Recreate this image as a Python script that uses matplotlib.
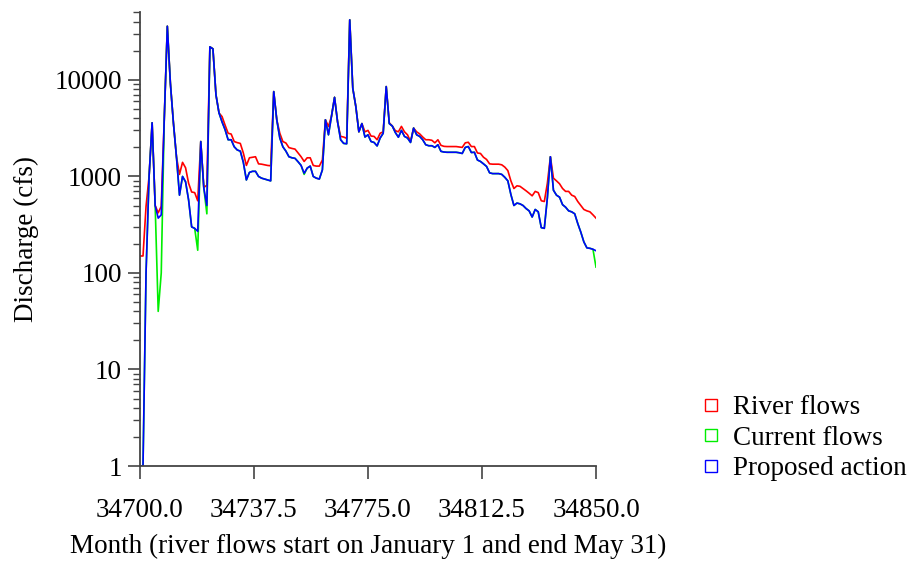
import matplotlib

matplotlib.use("Agg")
import matplotlib.pyplot as plt
from matplotlib.lines import Line2D
from matplotlib.ticker import FixedLocator, LogLocator, NullFormatter

plt.rcParams["font.family"] = ["Liberation Serif", "DejaVu Serif"]

start_day = 34700
x_ticks = [34700.0, 34737.5, 34775.0, 34812.5, 34850.0]
y_ticks = [1, 10, 100, 1000, 10000]

series_names = ["River flows", "Current flows", "Proposed action"]

# daily discharge (cfs), Jan 1 .. May 31
river_flows = [
    150, 150, 490, 1000, 3600, 500, 420, 490, 4000, 36000,
    9300, 3600, 1600, 1050, 1400, 1230, 850, 690, 680, 560,
    2300, 770, 810, 22000, 21000, 7000, 4550, 4170, 3400, 2800,
    2750, 2300, 2240, 2200, 1750, 1300, 1560, 1580, 1600, 1350,
    1340, 1320, 1300, 1290, 7570, 3860, 2800, 2300, 2220, 1990,
    1950, 1920, 1750, 1600, 1430, 1560, 1560, 1300, 1280, 1280,
    1480, 3860, 3300, 4200, 6600, 3670, 2600, 2560, 2480, 41900,
    8200, 5300, 2900, 3530, 2900, 3000, 2620, 2600, 2400, 2800,
    2900, 8530, 3600, 3330, 2980, 2900, 3300, 2900, 2700, 2300,
    3170, 2900, 2760, 2560, 2400, 2400, 2370, 2230, 2400, 2100,
    2050, 2040, 2040, 2040, 2040, 2020, 2000, 2230, 2260, 2040,
    2040, 1750, 1730, 1580, 1500, 1350, 1340, 1340, 1340, 1320,
    1250, 1150, 900, 750, 800, 790, 750, 710, 670, 630,
    700, 680, 560, 550, 850, 1600, 960, 900, 840, 750,
    700, 700, 640, 620, 550, 500, 455, 440, 430, 400,
    370,
]

proposed_action = [
    1, 1, 100, 1000, 3600, 500, 370, 400, 4000, 36000,
    9300, 3600, 1600, 640, 1000, 880, 570, 300, 290, 270,
    2300, 760, 500, 22000, 21000, 7000, 4550, 3670, 3050, 2400,
    2400, 2030, 1880, 1830, 1400, 920, 1100, 1130, 1130, 1000,
    960, 940, 920, 900, 7570, 3860, 2500, 2030, 1830, 1600,
    1560, 1540, 1420, 1300, 1080, 1220, 1280, 1000, 960, 940,
    1170, 3860, 2700, 4200, 6600, 3670, 2400, 2200, 2180, 41900,
    8200, 5300, 2900, 3530, 2560, 2700, 2300, 2250, 2070, 2500,
    2800, 8530, 3530, 3330, 2850, 2550, 3000, 2600, 2500, 2250,
    3170, 2700, 2600, 2400, 2130, 2080, 2080, 2000, 2130, 1820,
    1790, 1780, 1780, 1780, 1780, 1760, 1730, 2000, 2040, 1770,
    1780, 1480, 1430, 1350, 1270, 1090, 1070, 1070, 1070, 1050,
    980, 900, 650, 500, 530, 520, 500, 465, 440, 380,
    455, 430, 295, 290, 600, 1600, 720, 640, 610, 510,
    480, 440, 430, 410, 325, 265, 210, 182, 180, 176,
    170,
]

current_flows = list(proposed_action)
current_flows[6] = 40
current_flows[7] = 100
current_flows[19] = 172
current_flows[22] = 410
current_flows[54] = 1050
current_flows[150] = 115

days = [start_day + i for i in range(len(river_flows))]

colors = ["#ff0000", "#00ee00", "#0000ff"]
fs = 19.5

fig = plt.figure(figsize=(9.13, 5.61), dpi=100)
ax = fig.add_axes([0.1533, 0.1693, 0.4995, 0.8085])

for vals, c in zip([river_flows, current_flows, proposed_action], colors):
    ax.plot(days, vals, color=c, linewidth=1.2)

ax.set_yscale("log")
ax.set_xlim(34700, 34850)
ax.set_ylim(1, 50000)

ax.xaxis.set_major_locator(FixedLocator(x_ticks))
ax.set_xticklabels([f"{t:.1f}" for t in x_ticks])
ax.yaxis.set_major_locator(FixedLocator(y_ticks))
ax.set_yticklabels([str(t) for t in y_ticks])
ax.yaxis.set_minor_locator(LogLocator(base=10, subs=range(2, 10), numticks=20))
ax.yaxis.set_minor_formatter(NullFormatter())

for side in ["top", "right"]:
    ax.spines[side].set_visible(False)
for side in ["left", "bottom"]:
    ax.spines[side].set_color("#444444")
    ax.spines[side].set_linewidth(1.3)

ax.tick_params(axis="x", which="major", direction="out", length=9, width=1.2,
               color="#444444", labelsize=fs, pad=14)
ax.tick_params(axis="y", which="major", direction="out", length=9, width=1.2,
               color="#444444", labelsize=fs, pad=4)
ax.tick_params(axis="y", which="minor", direction="out", length=5, width=1.0,
               color="#444444")

ax.set_xlabel("Month (river flows start on January 1 and end May 31)", fontsize=fs, labelpad=8)
ax.set_ylabel("Discharge (cfs)", fontsize=fs, labelpad=11)

handles = [
    Line2D([], [], linestyle="none", marker="s", markersize=9,
           markerfacecolor="none", markeredgecolor=c, markeredgewidth=1.0)
    for c in colors
]
fig.legend(handles, series_names, loc="lower left", bbox_to_anchor=(0.749, 0.118),
           frameon=False, fontsize=fs, handletextpad=0.3, labelspacing=0.2,
           borderpad=0, handlelength=1.0)

fig.savefig("out.png", dpi=100)
plt.close(fig)
